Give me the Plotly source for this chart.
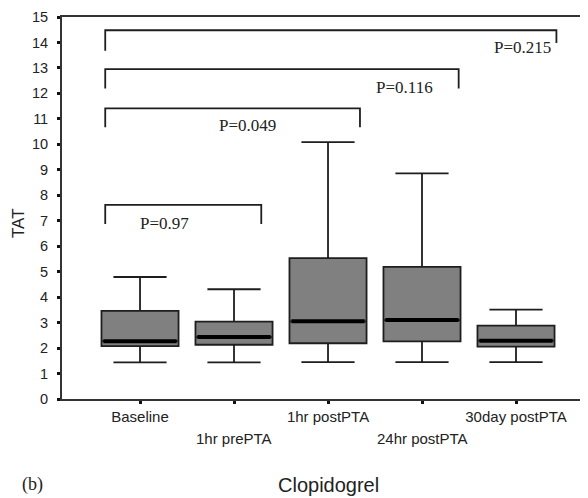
import plotly.graph_objects as go

# ---- data ----
categories = ["Baseline", "1hr prePTA", "1hr postPTA", "24hr postPTA", "30day postPTA"]
positions = [0, 1, 2, 3, 4]
lower_whisker = [1.44, 1.44, 1.45, 1.45, 1.45]
q1 = [2.08, 2.13, 2.19, 2.26, 2.06]
median = [2.27, 2.43, 3.05, 3.10, 2.29]
q3 = [3.46, 3.04, 5.53, 5.19, 2.88]
upper_whisker = [4.79, 4.31, 10.09, 8.86, 3.51]

y_ticks = list(range(0, 16))

# significance brackets: x ends (category units), bar height, leg bottoms, label
br_x_left = [-0.37, -0.37, -0.37, -0.37]
br_x_right = [4.43, 3.39, 2.34, 1.29]
br_y = [14.48, 12.95, 11.41, 7.62]
br_left_bottom = [13.67, 12.19, 10.67, 6.87]
br_right_bottom = [13.98, 12.19, 10.67, 6.87]
br_text = ["P=0.215", "P=0.116", "P=0.049", "P=0.97"]
br_text_x = [4.39, 2.81, 1.14, 0.26]
br_text_y = [13.80, 12.23, 10.75, 6.90]
br_text_anchor = ["right", "center", "center", "center"]

BOX_W = 0.82
OFF = 8  # browser body margin
W, H = 588 - OFF, 498 - OFF
TOP_PX, BOT_PX, LEFT_PX = 17, 399, 62  # plot area in window pixels
L, R, T = LEFT_PX - OFF, 0, TOP_PX - OFF
B = H - (BOT_PX - OFF)
plot_h = BOT_PX - TOP_PX
plot_w = 588 - LEFT_PX
X0, Y0 = LEFT_PX, BOT_PX

fig = go.Figure()

fig.add_trace(go.Box(
    x=positions, q1=q1, median=median, q3=q3,
    lowerfence=lower_whisker, upperfence=upper_whisker,
    width=BOX_W, whiskerwidth=0.69,
    fillcolor="#808080", line=dict(color="#1e1e1e", width=1.8),
    boxpoints=False, hoverinfo="skip", showlegend=False,
))

# thick median bars
mx, my = [], []
for p, m in zip(positions, median):
    mx += [p - BOX_W / 2 + 0.02, p + BOX_W / 2 - 0.02, None]
    my += [m, m, None]
fig.add_trace(go.Scatter(x=mx, y=my, mode="lines",
                         line=dict(color="black", width=4),
                         hoverinfo="skip", showlegend=False))

# brackets
bx, by = [], []
for xl, xr, yb, lb, rb in zip(br_x_left, br_x_right, br_y, br_left_bottom, br_right_bottom):
    bx += [xl, xl, xr, xr, None]
    by += [lb, yb, yb, rb, None]
fig.add_trace(go.Scatter(x=bx, y=by, mode="lines",
                         line=dict(color="#1e1e1e", width=1.8),
                         hoverinfo="skip", showlegend=False))

annotations = []
for t, tx, ty, anc in zip(br_text, br_text_x, br_text_y, br_text_anchor):
    annotations.append(dict(x=tx, y=ty, xref="x", yref="y", text=t, showarrow=False,
                            xanchor=anc, yanchor="middle",
                            font=dict(family="Liberation Serif", size=17, color="#222")))

# x tick labels: first row via ticks, second row via annotations
row1 = [c if i % 2 == 0 else "" for i, c in enumerate(categories)]
for i, c in enumerate(categories):
    if i % 2 == 1:
        annotations.append(dict(x=positions[i], y=(Y0 - 438) / plot_h, xref="x", yref="paper",
                                text=c, showarrow=False, xanchor="center", yanchor="middle",
                                font=dict(family="Liberation Sans", size=15, color="#222")))

annotations.append(dict(x=(19 - X0) / plot_w, y=(Y0 - 223) / plot_h, xref="paper", yref="paper",
                        text="TAT", textangle=-90, showarrow=False,
                        xanchor="center", yanchor="middle",
                        font=dict(family="Liberation Sans", size=17, color="#222")))
annotations.append(dict(x=(328 - X0) / plot_w, y=(Y0 - 485) / plot_h, xref="paper", yref="paper",
                        text="Clopidogrel", showarrow=False,
                        xanchor="center", yanchor="middle",
                        font=dict(family="Liberation Sans", size=20, color="#222")))
annotations.append(dict(x=(20 - X0) / plot_w, y=(Y0 - 497) / plot_h, xref="paper", yref="paper",
                        text="(b)", showarrow=False,
                        xanchor="left", yanchor="bottom",
                        font=dict(family="Liberation Serif", size=18, color="#222")))

fig.update_layout(
    width=W, height=H,
    margin=dict(l=L, r=R, t=T, b=B, pad=0, autoexpand=False),
    paper_bgcolor="white", plot_bgcolor="white",
    annotations=annotations,
    xaxis=dict(range=[-0.83, 4.766], tickmode="array", tickvals=positions, ticktext=row1,
               showgrid=False, zeroline=False, showline=True, linecolor="#333", linewidth=1.8,
               mirror=True, ticks="outside", ticklen=3, tickwidth=3, tickcolor="#111",
               tickfont=dict(family="Liberation Sans", size=15, color="#222")),
    yaxis=dict(range=[0, 15], tickmode="array", tickvals=y_ticks,
               showgrid=False, zeroline=False, showline=True, linecolor="#333", linewidth=1.8,
               ticks="outside", ticklen=3, tickwidth=3, tickcolor="#111",
               ticklabelstandoff=6, ticklabeloverflow="allow",
               tickfont=dict(family="Liberation Sans", size=14.5, color="#222")),
)

fig.write_html("out.html")
